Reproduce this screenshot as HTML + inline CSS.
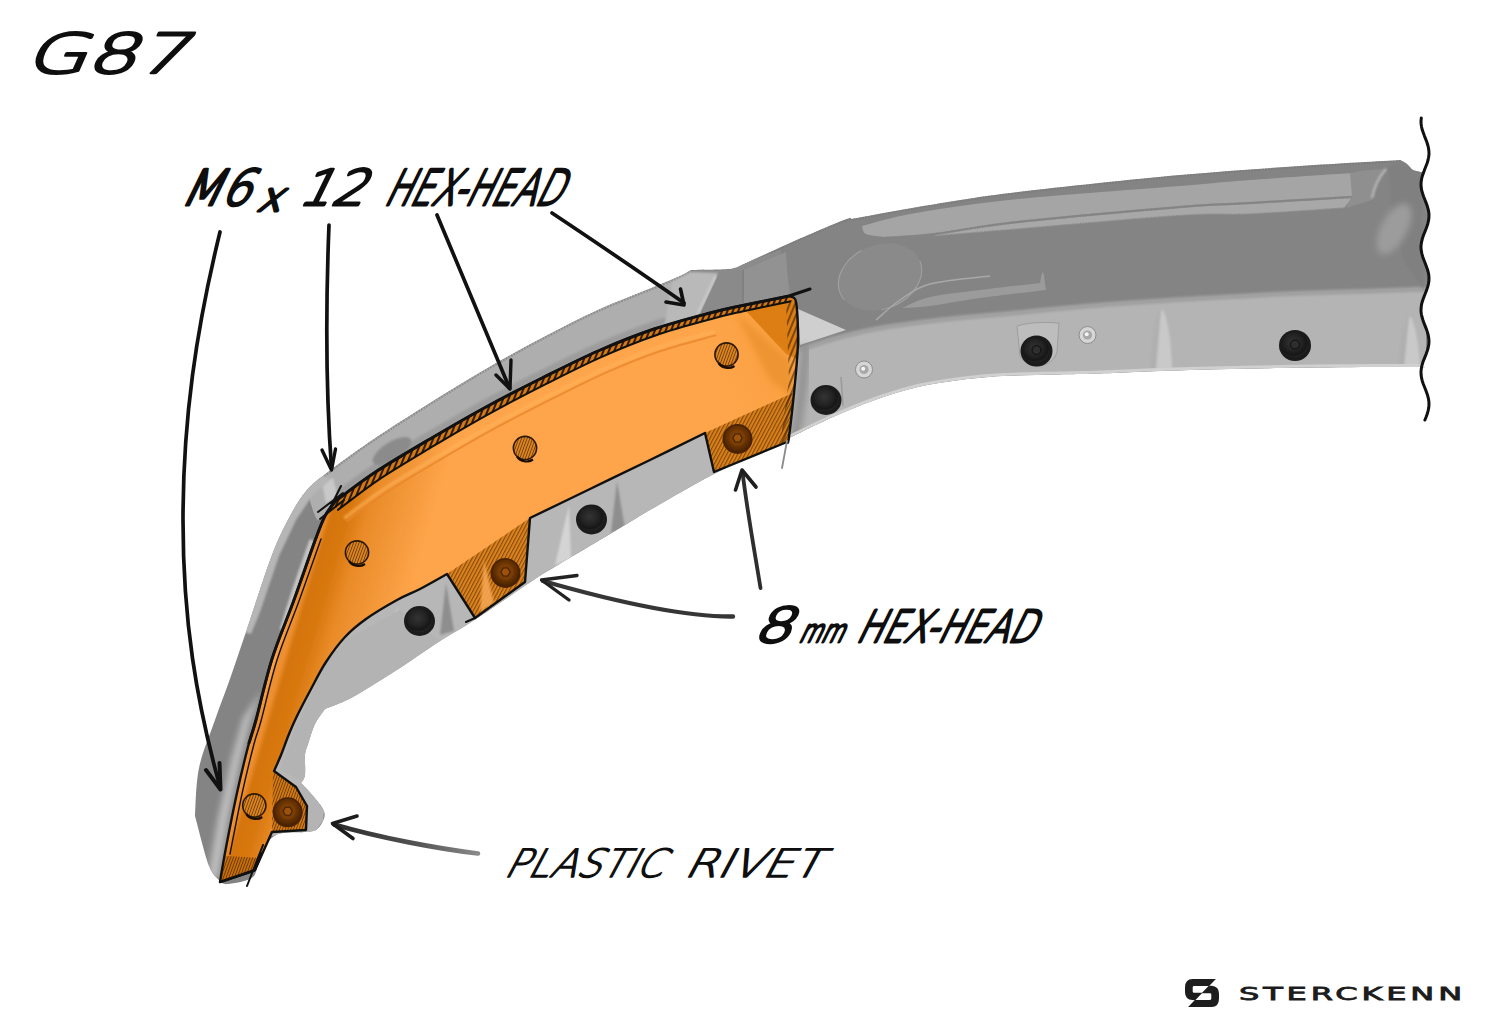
<!DOCTYPE html>
<html lang="en">
<head>
<meta charset="utf-8">
<title>G87 – Sterckenn mounting guide</title>
<style>
  html, body { margin: 0; padding: 0; background: #ffffff; }
  body { width: 1500px; height: 1030px; overflow: hidden; position: relative; }
  svg { position: absolute; left: 0; top: 0; display: block; }
  .hand { font-family: "DejaVu Sans Light", "DejaVu Sans", "Liberation Sans", sans-serif; font-weight: 200; fill: #0e0e0e; stroke: #0e0e0e; stroke-linejoin: round; stroke-linecap: round; }
  .brand { font-family: "DejaVu Sans", "Liberation Sans", sans-serif; font-weight: 400; fill: #1c1c1c; stroke: #1c1c1c; stroke-width: 0.8; }
  .ink { fill: none; stroke: #111; stroke-linecap: round; stroke-linejoin: round; }
</style>
</head>
<body>
<svg width="1500" height="1030" viewBox="0 0 1500 1030">
  <defs>
    <linearGradient id="gOr" gradientUnits="userSpaceOnUse" x1="296" y1="596" x2="401" y2="627">
      <stop offset="0" stop-color="#ee9030"/>
      <stop offset="0.05" stop-color="#ee9030"/>
      <stop offset="0.1" stop-color="#d4740f"/>
      <stop offset="0.25" stop-color="#d8780f"/>
      <stop offset="0.42" stop-color="#e98b28"/>
      <stop offset="1" stop-color="#fea54b"/>
    </linearGradient>
    <linearGradient id="gOr2" gradientUnits="userSpaceOnUse" x1="300" y1="500" x2="800" y2="300">
      <stop offset="0" stop-color="#fea54b"/>
      <stop offset="0.8" stop-color="#fea54b"/>
      <stop offset="1" stop-color="#f89e3c"/>
    </linearGradient>
    <linearGradient id="gLow" gradientUnits="userSpaceOnUse" x1="0" y1="290" x2="0" y2="372">
      <stop offset="0" stop-color="#a4a4a4"/>
      <stop offset="0.18" stop-color="#b3b3b3"/>
      <stop offset="1" stop-color="#b9b9b9"/>
    </linearGradient>
    <radialGradient id="gBolt" cx="0.45" cy="0.42" r="0.62">
      <stop offset="0" stop-color="#343434"/>
      <stop offset="0.55" stop-color="#222"/>
      <stop offset="0.8" stop-color="#161616"/>
      <stop offset="1" stop-color="#2a2a2a"/>
    </radialGradient>
    <radialGradient id="gHex" cx="0.5" cy="0.45" r="0.6">
      <stop offset="0" stop-color="#7f4106"/>
      <stop offset="0.55" stop-color="#6c3503"/>
      <stop offset="0.85" stop-color="#532701"/>
      <stop offset="1" stop-color="#3f1d00"/>
    </radialGradient>
    <pattern id="hatch" width="3.2" height="8" patternUnits="userSpaceOnUse" patternTransform="rotate(28)">
      <rect x="0" y="0" width="1.1" height="8" fill="#3a1c00" fill-opacity="0.55"/>
    </pattern>
    <pattern id="hatch2" width="2.6" height="8" patternUnits="userSpaceOnUse" patternTransform="rotate(20)">
      <rect x="0" y="0" width="0.9" height="8" fill="#2a1400" fill-opacity="0.6"/>
    </pattern>
    <pattern id="hatch3" width="5" height="8" patternUnits="userSpaceOnUse" patternTransform="rotate(22)">
      <rect x="0" y="0" width="2" height="8" fill="#140900" fill-opacity="0.85"/>
    </pattern>
    <linearGradient id="gArrow7" gradientUnits="userSpaceOnUse" x1="334" y1="0" x2="478" y2="0">
      <stop offset="0" stop-color="#2a2a2a"/><stop offset="0.6" stop-color="#555"/><stop offset="1" stop-color="#8a8a8a"/>
    </linearGradient>
    <clipPath id="clipSil"><path d="M221.0,882.0 C219.0,879.3 213.3,877.0 209.0,866.0 C204.7,855.0 197.3,824.3 195.0,816.0 C195.7,808.0 195.7,784.0 199.0,768.0 C202.3,752.0 209.7,735.3 215.0,720.0 C220.3,704.7 225.2,692.7 231.0,676.0 C236.8,659.3 243.2,640.2 250.0,620.0 C256.8,599.8 265.5,572.0 272.0,555.0 C278.5,538.0 283.2,528.8 289.0,518.0 C294.8,507.2 299.8,498.2 307.0,490.0 C314.2,481.8 320.8,477.5 332.0,469.0 C343.2,460.5 357.7,450.0 374.0,439.0 C390.3,428.0 411.3,414.7 430.0,403.0 C448.7,391.3 467.3,379.8 486.0,369.0 C504.7,358.2 523.3,347.8 542.0,338.0 C560.7,328.2 579.3,318.5 598.0,310.0 C616.7,301.5 640.3,292.7 654.0,287.0 C667.7,281.3 673.8,278.8 680.0,276.0 C686.2,273.2 689.2,271.0 691.0,270.0 C697.3,269.8 720.8,269.7 729.0,269.0 C737.2,268.3 738.2,266.5 740.0,266.0 C748.3,262.2 772.7,250.7 790.0,243.0 C807.3,235.3 833.8,224.0 844.0,220.0 C854.2,216.0 849.8,219.2 851.0,219.0 C864.2,216.7 902.2,209.5 930.0,205.0 C957.8,200.5 976.3,197.0 1018.0,192.0 C1059.7,187.0 1133.0,179.3 1180.0,175.0 C1227.0,170.7 1263.2,168.5 1300.0,166.0 C1336.8,163.5 1384.2,161.0 1401.0,160.0 L1401.0,160.5 C1402.0,161.1 1405.0,162.4 1407.0,164.0 C1409.0,165.6 1410.7,168.7 1413.0,170.0 C1415.3,171.3 1419.7,171.7 1421.0,172.0 C1421.4,172.0 1423.5,171.3 1423.7,172.0 C1423.9,172.7 1422.7,174.7 1422.3,176.1 C1421.9,177.4 1421.6,178.8 1421.4,180.1 C1421.1,181.5 1421.0,182.8 1421.0,184.2 C1421.0,185.5 1421.1,186.9 1421.3,188.2 C1421.5,189.6 1421.8,191.0 1422.2,192.3 C1422.6,193.7 1423.1,195.0 1423.6,196.4 C1424.0,197.7 1424.6,199.1 1425.2,200.4 C1425.7,201.8 1426.2,203.1 1426.7,204.5 C1427.2,205.9 1427.7,207.2 1428.0,208.6 C1428.4,209.9 1428.6,211.3 1428.8,212.6 C1429.0,214.0 1429.0,215.3 1429.0,216.7 C1428.9,218.0 1428.8,219.4 1428.5,220.8 C1428.3,222.1 1427.9,223.5 1427.5,224.8 C1427.0,226.2 1426.5,227.5 1426.0,228.9 C1425.5,230.2 1424.9,231.6 1424.4,232.9 C1423.9,234.3 1423.3,235.6 1422.9,237.0 C1422.4,238.4 1422.0,239.7 1421.7,241.1 C1421.4,242.4 1421.2,243.8 1421.1,245.1 C1421.0,246.5 1421.0,247.8 1421.1,249.2 C1421.2,250.5 1421.4,251.9 1421.7,253.2 C1422.0,254.6 1422.5,256.0 1422.9,257.3 C1423.4,258.7 1423.9,260.0 1424.4,261.4 C1424.9,262.7 1425.5,264.1 1426.0,265.4 C1426.5,266.8 1427.1,268.1 1427.5,269.5 C1427.9,270.9 1428.3,272.2 1428.5,273.6 C1428.8,274.9 1428.9,276.3 1429.0,277.6 C1429.0,279.0 1429.0,280.3 1428.8,281.7 C1428.6,283.0 1428.3,284.4 1428.0,285.8 C1427.6,287.1 1427.2,288.5 1426.7,289.8 C1426.2,291.2 1425.7,292.5 1425.1,293.9 C1424.6,295.2 1424.0,296.6 1423.5,297.9 C1423.0,299.3 1422.6,300.6 1422.2,302.0 C1421.8,303.4 1421.5,304.7 1421.3,306.1 C1421.1,307.4 1421.0,308.8 1421.0,310.1 C1421.0,311.5 1421.1,312.8 1421.4,314.2 C1421.6,315.5 1421.9,316.9 1422.3,318.2 C1422.7,319.6 1423.2,321.0 1423.7,322.3 C1424.2,323.7 1424.8,325.0 1425.3,326.4 C1425.9,327.7 1426.4,329.1 1426.9,330.4 C1427.3,331.8 1427.8,333.1 1428.1,334.5 C1428.5,335.9 1428.7,337.2 1428.9,338.6 C1429.0,339.9 1429.0,341.3 1429.0,342.6 C1428.9,344.0 1428.7,345.3 1428.4,346.7 C1428.1,348.0 1427.8,349.4 1427.3,350.8 C1426.9,352.1 1426.4,353.5 1425.8,354.8 C1425.3,356.2 1424.7,357.5 1424.2,358.9 C1423.7,360.2 1423.2,361.6 1422.7,362.9 C1422.3,364.3 1421.1,366.3 1421.6,367.0 C1422.2,367.7 1425.3,367.0 1426.0,367.0 C1417.0,367.0 1396.2,366.8 1372.0,367.0 C1347.8,367.2 1311.3,367.5 1281.0,368.0 C1250.7,368.5 1220.2,369.1 1190.0,370.0 C1159.8,370.9 1122.2,372.8 1100.0,373.5 C1077.8,374.2 1073.2,374.1 1057.0,374.5 C1040.8,374.9 1019.2,375.1 1003.0,376.0 C986.8,376.9 974.2,378.2 960.0,380.0 C945.8,381.8 932.2,383.7 918.0,387.0 C903.8,390.3 889.2,395.0 875.0,400.0 C860.8,405.0 847.7,410.5 833.0,417.0 C818.3,423.5 794.7,435.3 787.0,439.0 C774.8,444.8 736.8,462.2 714.0,474.0 C691.2,485.8 664.0,502.0 650.0,510.0 C636.0,518.0 645.3,512.8 630.0,522.0 C614.7,531.2 573.8,555.5 558.0,565.0 C542.2,574.5 548.7,570.0 535.0,579.0 C521.3,588.0 491.8,608.7 476.0,619.0 C460.2,629.3 452.2,633.2 440.0,641.0 C427.8,648.8 413.7,659.0 403.0,666.0 C392.3,673.0 385.0,677.5 376.0,683.0 C367.0,688.5 357.5,694.7 349.0,699.0 C340.5,703.3 329.0,707.3 325.0,709.0 C323.3,711.5 317.8,718.2 315.0,724.0 C312.2,729.8 309.7,738.8 308.0,744.0 C306.3,749.2 305.5,749.8 305.0,755.0 C304.5,760.2 305.7,770.3 305.0,775.0 C304.3,779.7 301.7,781.7 301.0,783.0 C303.2,785.3 310.2,792.3 314.0,797.0 C317.8,801.7 322.5,807.0 324.0,811.0 C325.5,815.0 324.3,817.8 323.0,821.0 C321.7,824.2 318.8,828.2 316.0,830.0 C313.2,831.8 307.7,831.7 306.0,832.0 C301.0,832.5 283.7,831.2 276.0,835.0 C268.3,838.8 263.8,848.0 260.0,855.0 C256.2,862.0 258.3,872.2 253.0,877.0 C247.7,881.8 233.3,883.2 228.0,884.0 C222.7,884.8 222.2,882.3 221.0,882.0 Z"/></clipPath>
    <clipPath id="clipOr"><path d="M333.0,503.0 C339.8,498.0 357.8,483.7 374.0,473.0 C390.2,462.3 411.3,450.0 430.0,439.0 C448.7,428.0 467.3,417.2 486.0,407.0 C504.7,396.8 523.3,387.3 542.0,378.0 C560.7,368.7 579.3,359.2 598.0,351.0 C616.7,342.8 635.3,335.3 654.0,329.0 C672.7,322.7 695.7,316.8 710.0,313.0 C724.3,309.2 726.8,308.8 740.0,306.0 C753.2,303.2 780.8,297.7 789.0,296.0 C790.0,296.5 793.7,296.7 795.0,299.0 C796.3,301.3 796.5,302.8 797.0,310.0 C797.5,317.2 798.3,329.8 798.0,342.0 C797.7,354.2 796.5,367.2 795.0,383.0 C793.5,398.8 790.3,427.2 789.0,437.0 C787.7,446.8 787.3,441.2 787.0,442.0 L714.0,472.0 L705.0,433.0 C695.8,437.5 669.2,450.7 650.0,460.0 C630.8,469.3 610.0,479.3 590.0,489.0 C570.0,498.7 540.0,513.2 530.0,518.0 L525.0,582.0 L475.0,618.0 L447.0,574.0 C442.5,576.5 428.3,584.7 420.0,589.0 C411.7,593.3 406.0,595.0 397.0,600.0 C388.0,605.0 374.7,612.8 366.0,619.0 C357.3,625.2 351.7,629.8 345.0,637.0 C338.3,644.2 331.7,653.3 326.0,662.0 C320.3,670.7 315.8,680.0 311.0,689.0 C306.2,698.0 300.7,708.5 297.0,716.0 C293.3,723.5 291.7,727.5 289.0,734.0 C286.3,740.5 283.5,748.8 281.0,755.0 C278.5,761.2 275.2,768.3 274.0,771.0 L296.0,787.0 L307.0,806.0 L306.0,830.0 L272.0,832.0 L255.0,870.0 L220.0,882.0 C220.8,877.2 222.2,867.8 225.0,853.0 C227.8,838.2 233.0,811.3 237.0,793.0 C241.0,774.7 245.8,755.2 249.0,743.0 C252.2,730.8 252.2,734.0 256.0,720.0 C259.8,706.0 265.7,679.0 272.0,659.0 C278.3,639.0 286.7,620.2 294.0,600.0 C301.3,579.8 310.8,552.0 316.0,538.0 C321.2,524.0 322.0,521.8 325.0,516.0 C328.0,510.2 332.5,505.2 334.0,503.0 Z"/></clipPath>
    <filter id="b1" x="-20%" y="-20%" width="140%" height="140%"><feGaussianBlur stdDeviation="1.2"/></filter>
    <filter id="b3" x="-20%" y="-20%" width="140%" height="140%"><feGaussianBlur stdDeviation="3"/></filter>
    <filter id="b6" x="-30%" y="-30%" width="160%" height="160%"><feGaussianBlur stdDeviation="6"/></filter>
  </defs>

<g id="body">
<path d="M221.0,882.0 C219.0,879.3 213.3,877.0 209.0,866.0 C204.7,855.0 197.3,824.3 195.0,816.0 C195.7,808.0 195.7,784.0 199.0,768.0 C202.3,752.0 209.7,735.3 215.0,720.0 C220.3,704.7 225.2,692.7 231.0,676.0 C236.8,659.3 243.2,640.2 250.0,620.0 C256.8,599.8 265.5,572.0 272.0,555.0 C278.5,538.0 283.2,528.8 289.0,518.0 C294.8,507.2 299.8,498.2 307.0,490.0 C314.2,481.8 320.8,477.5 332.0,469.0 C343.2,460.5 357.7,450.0 374.0,439.0 C390.3,428.0 411.3,414.7 430.0,403.0 C448.7,391.3 467.3,379.8 486.0,369.0 C504.7,358.2 523.3,347.8 542.0,338.0 C560.7,328.2 579.3,318.5 598.0,310.0 C616.7,301.5 640.3,292.7 654.0,287.0 C667.7,281.3 673.8,278.8 680.0,276.0 C686.2,273.2 689.2,271.0 691.0,270.0 C697.3,269.8 720.8,269.7 729.0,269.0 C737.2,268.3 738.2,266.5 740.0,266.0 C748.3,262.2 772.7,250.7 790.0,243.0 C807.3,235.3 833.8,224.0 844.0,220.0 C854.2,216.0 849.8,219.2 851.0,219.0 C864.2,216.7 902.2,209.5 930.0,205.0 C957.8,200.5 976.3,197.0 1018.0,192.0 C1059.7,187.0 1133.0,179.3 1180.0,175.0 C1227.0,170.7 1263.2,168.5 1300.0,166.0 C1336.8,163.5 1384.2,161.0 1401.0,160.0 L1401.0,160.5 C1402.0,161.1 1405.0,162.4 1407.0,164.0 C1409.0,165.6 1410.7,168.7 1413.0,170.0 C1415.3,171.3 1419.7,171.7 1421.0,172.0 C1421.4,172.0 1423.5,171.3 1423.7,172.0 C1423.9,172.7 1422.7,174.7 1422.3,176.1 C1421.9,177.4 1421.6,178.8 1421.4,180.1 C1421.1,181.5 1421.0,182.8 1421.0,184.2 C1421.0,185.5 1421.1,186.9 1421.3,188.2 C1421.5,189.6 1421.8,191.0 1422.2,192.3 C1422.6,193.7 1423.1,195.0 1423.6,196.4 C1424.0,197.7 1424.6,199.1 1425.2,200.4 C1425.7,201.8 1426.2,203.1 1426.7,204.5 C1427.2,205.9 1427.7,207.2 1428.0,208.6 C1428.4,209.9 1428.6,211.3 1428.8,212.6 C1429.0,214.0 1429.0,215.3 1429.0,216.7 C1428.9,218.0 1428.8,219.4 1428.5,220.8 C1428.3,222.1 1427.9,223.5 1427.5,224.8 C1427.0,226.2 1426.5,227.5 1426.0,228.9 C1425.5,230.2 1424.9,231.6 1424.4,232.9 C1423.9,234.3 1423.3,235.6 1422.9,237.0 C1422.4,238.4 1422.0,239.7 1421.7,241.1 C1421.4,242.4 1421.2,243.8 1421.1,245.1 C1421.0,246.5 1421.0,247.8 1421.1,249.2 C1421.2,250.5 1421.4,251.9 1421.7,253.2 C1422.0,254.6 1422.5,256.0 1422.9,257.3 C1423.4,258.7 1423.9,260.0 1424.4,261.4 C1424.9,262.7 1425.5,264.1 1426.0,265.4 C1426.5,266.8 1427.1,268.1 1427.5,269.5 C1427.9,270.9 1428.3,272.2 1428.5,273.6 C1428.8,274.9 1428.9,276.3 1429.0,277.6 C1429.0,279.0 1429.0,280.3 1428.8,281.7 C1428.6,283.0 1428.3,284.4 1428.0,285.8 C1427.6,287.1 1427.2,288.5 1426.7,289.8 C1426.2,291.2 1425.7,292.5 1425.1,293.9 C1424.6,295.2 1424.0,296.6 1423.5,297.9 C1423.0,299.3 1422.6,300.6 1422.2,302.0 C1421.8,303.4 1421.5,304.7 1421.3,306.1 C1421.1,307.4 1421.0,308.8 1421.0,310.1 C1421.0,311.5 1421.1,312.8 1421.4,314.2 C1421.6,315.5 1421.9,316.9 1422.3,318.2 C1422.7,319.6 1423.2,321.0 1423.7,322.3 C1424.2,323.7 1424.8,325.0 1425.3,326.4 C1425.9,327.7 1426.4,329.1 1426.9,330.4 C1427.3,331.8 1427.8,333.1 1428.1,334.5 C1428.5,335.9 1428.7,337.2 1428.9,338.6 C1429.0,339.9 1429.0,341.3 1429.0,342.6 C1428.9,344.0 1428.7,345.3 1428.4,346.7 C1428.1,348.0 1427.8,349.4 1427.3,350.8 C1426.9,352.1 1426.4,353.5 1425.8,354.8 C1425.3,356.2 1424.7,357.5 1424.2,358.9 C1423.7,360.2 1423.2,361.6 1422.7,362.9 C1422.3,364.3 1421.1,366.3 1421.6,367.0 C1422.2,367.7 1425.3,367.0 1426.0,367.0 C1417.0,367.0 1396.2,366.8 1372.0,367.0 C1347.8,367.2 1311.3,367.5 1281.0,368.0 C1250.7,368.5 1220.2,369.1 1190.0,370.0 C1159.8,370.9 1122.2,372.8 1100.0,373.5 C1077.8,374.2 1073.2,374.1 1057.0,374.5 C1040.8,374.9 1019.2,375.1 1003.0,376.0 C986.8,376.9 974.2,378.2 960.0,380.0 C945.8,381.8 932.2,383.7 918.0,387.0 C903.8,390.3 889.2,395.0 875.0,400.0 C860.8,405.0 847.7,410.5 833.0,417.0 C818.3,423.5 794.7,435.3 787.0,439.0 C774.8,444.8 736.8,462.2 714.0,474.0 C691.2,485.8 664.0,502.0 650.0,510.0 C636.0,518.0 645.3,512.8 630.0,522.0 C614.7,531.2 573.8,555.5 558.0,565.0 C542.2,574.5 548.7,570.0 535.0,579.0 C521.3,588.0 491.8,608.7 476.0,619.0 C460.2,629.3 452.2,633.2 440.0,641.0 C427.8,648.8 413.7,659.0 403.0,666.0 C392.3,673.0 385.0,677.5 376.0,683.0 C367.0,688.5 357.5,694.7 349.0,699.0 C340.5,703.3 329.0,707.3 325.0,709.0 C323.3,711.5 317.8,718.2 315.0,724.0 C312.2,729.8 309.7,738.8 308.0,744.0 C306.3,749.2 305.5,749.8 305.0,755.0 C304.5,760.2 305.7,770.3 305.0,775.0 C304.3,779.7 301.7,781.7 301.0,783.0 C303.2,785.3 310.2,792.3 314.0,797.0 C317.8,801.7 322.5,807.0 324.0,811.0 C325.5,815.0 324.3,817.8 323.0,821.0 C321.7,824.2 318.8,828.2 316.0,830.0 C313.2,831.8 307.7,831.7 306.0,832.0 C301.0,832.5 283.7,831.2 276.0,835.0 C268.3,838.8 263.8,848.0 260.0,855.0 C256.2,862.0 258.3,872.2 253.0,877.0 C247.7,881.8 233.3,883.2 228.0,884.0 C222.7,884.8 222.2,882.3 221.0,882.0 Z" fill="#848484"/>
<g clip-path="url(#clipSil)">
<path d="M1426.0,288.0 C1417.0,288.3 1396.2,289.2 1372.0,290.0 C1347.8,290.8 1311.3,291.7 1281.0,293.0 C1250.7,294.3 1220.2,296.2 1190.0,298.0 C1159.8,299.8 1131.2,301.5 1100.0,304.0 C1068.8,306.5 1029.8,310.5 1003.0,313.0 C976.2,315.5 960.3,316.5 939.0,319.0 C917.7,321.5 892.7,324.8 875.0,328.0 C857.3,331.2 845.7,334.5 833.0,338.0 C820.3,341.5 804.7,347.2 799.0,349.0 L787.0,441.0 L787.0,439.0 C794.7,435.3 818.3,423.5 833.0,417.0 C847.7,410.5 860.8,405.0 875.0,400.0 C889.2,395.0 903.8,390.3 918.0,387.0 C932.2,383.7 945.8,381.8 960.0,380.0 C974.2,378.2 986.8,376.9 1003.0,376.0 C1019.2,375.1 1040.8,374.9 1057.0,374.5 C1073.2,374.1 1077.8,374.2 1100.0,373.5 C1122.2,372.8 1159.8,370.9 1190.0,370.0 C1220.2,369.1 1250.7,368.5 1281.0,368.0 C1311.3,367.5 1347.8,367.2 1372.0,367.0 C1396.2,366.8 1417.0,367.0 1426.0,367.0 Z" fill="#b4b4b4"/>
<path d="M1426.0,278.0 C1417.0,278.3 1396.2,279.2 1372.0,280.0 C1347.8,280.8 1311.3,281.7 1281.0,283.0 C1250.7,284.3 1220.2,286.2 1190.0,288.0 C1159.8,289.8 1131.2,291.5 1100.0,294.0 C1068.8,296.5 1029.8,300.5 1003.0,303.0 C976.2,305.5 960.3,306.5 939.0,309.0 C917.7,311.5 892.7,314.8 875.0,318.0 C857.3,321.2 845.7,324.5 833.0,328.0 C820.3,331.5 804.7,337.2 799.0,339.0" fill="none" stroke="#848484" stroke-width="12" filter="url(#b3)"/>
<path d="M1426.0,289.0 C1417.0,289.3 1396.2,290.2 1372.0,291.0 C1347.8,291.8 1311.3,292.7 1281.0,294.0 C1250.7,295.3 1220.2,297.2 1190.0,299.0 C1159.8,300.8 1131.2,302.5 1100.0,305.0 C1068.8,307.5 1029.8,311.5 1003.0,314.0 C976.2,316.5 960.3,317.5 939.0,320.0 C917.7,322.5 892.7,325.8 875.0,329.0 C857.3,332.2 845.7,335.5 833.0,339.0 C820.3,342.5 804.7,348.2 799.0,350.0" fill="none" stroke="#a0a0a0" stroke-width="5" filter="url(#b1)"/>
<path d="M787,441 L714,474 L650,510 L558,565 L476,619 L403,668 L349,700 L325,710 L308,745 L304,782 L324,811 L316,832 L270,836 L270,770 L330,640 L420,570 L540,505 L700,425 L799,345 Z" fill="#b7b7b7"/>
<path d="M851.0,220.0 C864.2,217.7 902.2,210.5 930.0,206.0 C957.8,201.5 976.3,198.0 1018.0,193.0 C1059.7,188.0 1133.0,180.3 1180.0,176.0 C1227.0,171.7 1263.2,169.5 1300.0,167.0 C1336.8,164.5 1384.2,162.0 1401.0,161.0" fill="none" stroke="#7c7c7c" stroke-width="2.2" stroke-dasharray="1.6 1.3"/>
<path d="M740.0,267.0 C748.3,263.2 772.7,251.7 790.0,244.0 C807.3,236.3 833.8,225.0 844.0,221.0 C854.2,217.0 849.8,220.2 851.0,220.0" fill="none" stroke="#7c7c7c" stroke-width="2.2" stroke-dasharray="1.6 1.3"/>
<path d="M307.0,490.0 C311.2,486.5 320.8,477.5 332.0,469.0 C343.2,460.5 357.7,450.0 374.0,439.0 C390.3,428.0 411.3,414.7 430.0,403.0 C448.7,391.3 467.3,379.8 486.0,369.0 C504.7,358.2 523.3,347.8 542.0,338.0 C560.7,328.2 579.3,318.5 598.0,310.0 C616.7,301.5 640.3,292.7 654.0,287.0 C667.7,281.3 673.8,278.8 680.0,276.0 C686.2,273.2 689.2,271.0 691.0,270.0 C692.5,275.0 699.2,292.0 700.0,300.0 C700.8,308.0 696.7,315.0 696.0,318.0 C698.3,317.2 717.0,311.2 710.0,313.0 C703.0,314.8 672.7,322.7 654.0,329.0 C635.3,335.3 616.7,342.8 598.0,351.0 C579.3,359.2 560.7,368.7 542.0,378.0 C523.3,387.3 504.7,396.8 486.0,407.0 C467.3,417.2 448.7,428.0 430.0,439.0 C411.3,450.0 390.2,462.3 374.0,473.0 C357.8,483.7 339.8,498.0 333.0,503.0 C330.5,505.8 322.3,522.2 318.0,520.0 C313.7,517.8 308.8,495.0 307.0,490.0 Z" fill="#aeaeae"/>
<path d="M301.0,499.0 C302.0,497.7 301.8,495.8 307.0,491.0 C312.2,486.2 320.8,478.5 332.0,470.0 C343.2,461.5 357.7,451.0 374.0,440.0 C390.3,429.0 411.3,415.7 430.0,404.0 C448.7,392.3 467.3,380.8 486.0,370.0 C504.7,359.2 523.3,348.8 542.0,339.0 C560.7,329.2 579.3,319.5 598.0,311.0 C616.7,302.5 640.3,293.7 654.0,288.0 C667.7,282.3 673.8,279.8 680.0,277.0 C686.2,274.2 689.2,272.0 691.0,271.0" fill="none" stroke="#8e8e8e" stroke-width="2.6" stroke-dasharray="1.8 1.2"/>
<path d="M332.0,499.0 C338.8,494.0 356.8,479.7 373.0,469.0 C389.2,458.3 410.3,446.0 429.0,435.0 C447.7,424.0 466.3,413.2 485.0,403.0 C503.7,392.8 522.3,383.3 541.0,374.0 C559.7,364.7 578.3,355.2 597.0,347.0 C615.7,338.8 634.3,331.3 653.0,325.0 C671.7,318.7 699.7,311.7 709.0,309.0" fill="none" stroke="#8f8f8f" stroke-width="7" opacity="0.55" filter="url(#b1)"/>
<ellipse cx="392" cy="451" rx="22" ry="9" transform="rotate(-32 392 451)" fill="#8b8b8b" filter="url(#b1)"/>
<path d="M322,483 L333,478 L338,497 L326,503 Z" fill="#c9c9c9" filter="url(#b1)"/>
<path d="M244,632 L250,610 L270,550 L287,514 L304,489 L322,474 L330,480 L312,496 L296,520 L279,556 L260,612 L251,634 Z" fill="#b6b6b6" filter="url(#b1)"/>
<path d="M312.0,540.0 C309.0,548.7 299.0,577.0 294.0,592.0 C289.0,607.0 284.0,623.7 282.0,630.0" fill="none" stroke="#c4c4c4" stroke-width="5" filter="url(#b1)"/>
<path d="M262,690 L250,722 L240,762 L228,820 L218,880 L208,876 L218,818 L231,760 L243,718 Z" fill="#bdbdbd" filter="url(#b3)"/>
<path d="M691,271 L729,270 L742,264 L780,250 L792,296 L740,308 L696,320 Z" fill="#8b8b8b"/>
<path d="M672,282 L692,272 L718,273 L698,316 L664,328 Z" fill="#b9b9b9" filter="url(#b1)"/>
<path d="M716,276 L698,314" stroke="#cfcfcf" stroke-width="2.5" fill="none" filter="url(#b1)"/>
<path d="M719,273 L744,270 L744,303 L699,316 Z" fill="#8a8a8a"/>
<path d="M744,270 L786,252 L789,296 L744,304 Z" fill="#929292"/>
<path d="M743,270 L743,303" stroke="#7e7e7e" stroke-width="1.5" fill="none"/>
<path d="M798,309 L846,330 L800,345 Z" fill="#cfcfcf"/>
<path d="M862.0,226.0 C871.0,223.8 890.0,217.5 916.0,213.0 C942.0,208.5 974.0,203.5 1018.0,199.0 C1062.0,194.5 1141.3,189.2 1180.0,186.0 C1218.7,182.8 1221.3,182.2 1250.0,180.0 C1278.7,177.8 1335.0,174.2 1352.0,173.0 C1354.3,173.3 1366.0,171.2 1366.0,175.0 C1366.0,178.8 1354.3,192.5 1352.0,196.0 C1335.0,197.0 1278.7,200.3 1250.0,202.0 C1221.3,203.7 1218.7,202.8 1180.0,206.0 C1141.3,209.2 1058.8,216.5 1018.0,221.0 C977.2,225.5 957.3,230.3 935.0,233.0 C912.7,235.7 892.5,236.3 884.0,237.0 C881.0,236.5 869.7,235.8 866.0,234.0 C862.3,232.2 862.7,227.3 862.0,226.0 Z" fill="#a5a5a5"/>
<path d="M935.0,235.0 C948.8,233.0 977.2,227.5 1018.0,223.0 C1058.8,218.5 1141.3,211.2 1180.0,208.0 C1218.7,204.8 1221.3,205.7 1250.0,204.0 C1278.7,202.3 1335.0,199.0 1352.0,198.0 L1344.0,208.0 C1328.3,209.0 1277.3,212.8 1250.0,214.0 C1222.7,215.2 1218.7,213.0 1180.0,215.5 C1141.3,218.0 1058.8,225.6 1018.0,229.0 C977.2,232.4 948.8,234.8 935.0,236.0 Z" fill="#a8a8a8"/>
<path d="M884.0,238.0 C892.5,237.3 912.7,236.7 935.0,234.0 C957.3,231.3 977.2,226.5 1018.0,222.0 C1058.8,217.5 1141.3,210.2 1180.0,207.0 C1218.7,203.8 1221.3,204.7 1250.0,203.0 C1278.7,201.3 1335.0,198.0 1352.0,197.0" fill="none" stroke="#858585" stroke-width="2.4" stroke-dasharray="1.5 1.1"/>
<path d="M935.0,236.0 C948.8,234.8 977.2,232.4 1018.0,229.0 C1058.8,225.6 1141.3,218.0 1180.0,215.5 C1218.7,213.0 1222.7,215.2 1250.0,214.0 C1277.3,212.8 1328.3,209.0 1344.0,208.0" fill="none" stroke="#8a8a8a" stroke-width="1.5" stroke-dasharray="1.5 1.1"/>
<path d="M1350,173 C1364,170 1376,169 1388,169 C1378,178 1374,190 1372,200 L1346,208 L1352,196 Z" fill="#8f8f8f"/>
<path d="M1386,169 C1378,178 1374,188 1372,198" fill="none" stroke="#b5b5b5" stroke-width="2.5" filter="url(#b1)"/>
<path d="M1388,166 L1401,161 L1421,172 L1424,290 L1404,262 L1392,215 Z" fill="#808080" filter="url(#b1)"/>
<ellipse cx="1394" cy="229" rx="13" ry="28" transform="rotate(28 1394 229)" fill="#9c9c9c" filter="url(#b3)"/>
<ellipse cx="880" cy="277" rx="43" ry="32" transform="rotate(-22 880 277)" fill="#8a8a8a" stroke="#a0a0a0" stroke-width="1.1" stroke-dasharray="70 40 60 300"/>
<path d="M902.0,308.0 C906.7,306.2 917.0,300.0 930.0,297.0 C943.0,294.0 961.7,292.3 980.0,290.0 C998.3,287.7 1030.0,284.2 1040.0,283.0 C1040.5,281.2 1042.0,270.8 1043.0,272.0 C1044.0,273.2 1045.5,287.0 1046.0,290.0 C1035.0,291.3 999.3,295.3 980.0,298.0 C960.7,300.7 943.0,304.3 930.0,306.0 C917.0,307.7 906.7,307.7 902.0,308.0 Z" fill="#9b9b9b"/>
<path d="M876.0,320.0 C880.0,316.7 891.0,306.0 900.0,300.0 C909.0,294.0 915.0,288.0 930.0,284.0 C945.0,280.0 980.0,277.3 990.0,276.0" fill="none" stroke="#a8a8a8" stroke-width="1.5"/>
<path d="M1152,369 C1153,334 1158,314 1162,309 C1166,314 1171,334 1172,369 Z" fill="#c9c9c9" filter="url(#b1)"/>
<path d="M1151,369 C1152,334 1157,314 1161,309 L1156,369 Z" fill="#a6a6a6" opacity="0.7" filter="url(#b1)"/>
<path d="M1400,368 C1401,341 1406,321 1410,316 C1414,321 1419,341 1420,368 Z" fill="#c9c9c9" filter="url(#b1)"/>
<path d="M1399,368 C1400,341 1405,321 1409,316 L1404,368 Z" fill="#a6a6a6" opacity="0.7" filter="url(#b1)"/>
<path d="M1017,326 C1030,322 1046,322 1059,323 L1057,352 C1052,368 1030,372 1020,356 Z" fill="#bdbdbd" stroke="#9d9d9d" stroke-width="1"/>
<path d="M841,377 L843,406" stroke="#9a9a9a" stroke-width="1.5" fill="none"/>
<path d="M806,346 L803,380 L798,420 L794,442" fill="none" stroke="#8c8c8c" stroke-width="10" opacity="0.8" filter="url(#b3)"/>
<path d="M1426.0,365.5 C1417.0,365.5 1396.2,365.3 1372.0,365.5 C1347.8,365.7 1311.3,366.0 1281.0,366.5 C1250.7,367.0 1220.2,367.6 1190.0,368.5 C1159.8,369.4 1122.2,371.2 1100.0,372.0 C1077.8,372.8 1073.2,372.6 1057.0,373.0 C1040.8,373.4 1019.2,373.6 1003.0,374.5 C986.8,375.4 974.2,376.7 960.0,378.5 C945.8,380.3 932.2,382.2 918.0,385.5 C903.8,388.8 889.2,393.5 875.0,398.5 C860.8,403.5 847.7,409.0 833.0,415.5 C818.3,422.0 794.7,433.8 787.0,437.5" fill="none" stroke="#d0d0d0" stroke-width="3"/>
<path d="M569,505 L555,565 L571,559 Z" fill="#d4d4d4" filter="url(#b1)"/>
<path d="M617,481 L625,529 L611,533 Z" fill="#8e8e8e" filter="url(#b1)"/>
<path d="M398,607 L384,667 L400,661 Z" fill="#d4d4d4" filter="url(#b1)"/>
<path d="M446,583 L454,631 L440,635 Z" fill="#8e8e8e" filter="url(#b1)"/>
<path d="M345,640 L400,610 L440,641 L376,684 L349,700 L325,710 L308,745 L304,782 L280,770 L296,726 L327,662 Z" fill="#b3b3b3"/>
<path d="M303,784 L314,797 L324,811 L323,821 L316,830 L300,833 L296,787 Z" fill="#b4b4b4"/>
</g>
</g>
<g id="rivets">
<g><ellipse cx="826.0" cy="400.0" rx="15.5" ry="15.0" fill="#1b1b1b"/><ellipse cx="825.5" cy="399.0" rx="13.0" ry="12.0" fill="url(#gBolt)"/></g>
<g><ellipse cx="1036.5" cy="351.0" rx="16.0" ry="15.5" fill="#1b1b1b"/><ellipse cx="1036.0" cy="350.0" rx="13.5" ry="12.5" fill="url(#gBolt)"/><circle cx="1036.5" cy="350.0" r="4.5" fill="#2e2e2e" stroke="#0c0c0c" stroke-width="1"/></g>
<g><ellipse cx="1295.0" cy="345.5" rx="16.0" ry="15.5" fill="#1b1b1b"/><ellipse cx="1294.5" cy="344.5" rx="13.5" ry="12.5" fill="url(#gBolt)"/><circle cx="1295.0" cy="344.5" r="4.5" fill="#2e2e2e" stroke="#0c0c0c" stroke-width="1"/></g>
<g><ellipse cx="591.5" cy="519.5" rx="15.5" ry="15.0" fill="#1b1b1b"/><ellipse cx="591.0" cy="518.5" rx="13.0" ry="12.0" fill="url(#gBolt)"/></g>
<g><ellipse cx="419.5" cy="621.0" rx="15.5" ry="15.0" fill="#1b1b1b"/><ellipse cx="419.0" cy="620.0" rx="13.0" ry="12.0" fill="url(#gBolt)"/></g>
<g><circle cx="864.0" cy="369.5" r="8.5" fill="#d6d6d6" stroke="#8c8c8c" stroke-width="1"/><circle cx="864.0" cy="369.5" r="4.6" fill="#a8a8a8"/><circle cx="863.2" cy="368.7" r="2" fill="#f5f5f5"/></g>
<g><circle cx="1087.5" cy="335.0" r="8.5" fill="#d6d6d6" stroke="#8c8c8c" stroke-width="1"/><circle cx="1087.5" cy="335.0" r="4.6" fill="#a8a8a8"/><circle cx="1086.7" cy="334.2" r="2" fill="#f5f5f5"/></g>
</g>
<g id="panel">
<path d="M333.0,503.0 C339.8,498.0 357.8,483.7 374.0,473.0 C390.2,462.3 411.3,450.0 430.0,439.0 C448.7,428.0 467.3,417.2 486.0,407.0 C504.7,396.8 523.3,387.3 542.0,378.0 C560.7,368.7 579.3,359.2 598.0,351.0 C616.7,342.8 635.3,335.3 654.0,329.0 C672.7,322.7 695.7,316.8 710.0,313.0 C724.3,309.2 726.8,308.8 740.0,306.0 C753.2,303.2 780.8,297.7 789.0,296.0 C790.0,296.5 793.7,296.7 795.0,299.0 C796.3,301.3 796.5,302.8 797.0,310.0 C797.5,317.2 798.3,329.8 798.0,342.0 C797.7,354.2 796.5,367.2 795.0,383.0 C793.5,398.8 790.3,427.2 789.0,437.0 C787.7,446.8 787.3,441.2 787.0,442.0 L714.0,472.0 L705.0,433.0 C695.8,437.5 669.2,450.7 650.0,460.0 C630.8,469.3 610.0,479.3 590.0,489.0 C570.0,498.7 540.0,513.2 530.0,518.0 L525.0,582.0 L475.0,618.0 L447.0,574.0 C442.5,576.5 428.3,584.7 420.0,589.0 C411.7,593.3 406.0,595.0 397.0,600.0 C388.0,605.0 374.7,612.8 366.0,619.0 C357.3,625.2 351.7,629.8 345.0,637.0 C338.3,644.2 331.7,653.3 326.0,662.0 C320.3,670.7 315.8,680.0 311.0,689.0 C306.2,698.0 300.7,708.5 297.0,716.0 C293.3,723.5 291.7,727.5 289.0,734.0 C286.3,740.5 283.5,748.8 281.0,755.0 C278.5,761.2 275.2,768.3 274.0,771.0 L296.0,787.0 L307.0,806.0 L306.0,830.0 L272.0,832.0 L255.0,870.0 L220.0,882.0 C220.8,877.2 222.2,867.8 225.0,853.0 C227.8,838.2 233.0,811.3 237.0,793.0 C241.0,774.7 245.8,755.2 249.0,743.0 C252.2,730.8 252.2,734.0 256.0,720.0 C259.8,706.0 265.7,679.0 272.0,659.0 C278.3,639.0 286.7,620.2 294.0,600.0 C301.3,579.8 310.8,552.0 316.0,538.0 C321.2,524.0 322.0,521.8 325.0,516.0 C328.0,510.2 332.5,505.2 334.0,503.0 Z" fill="url(#gOr2)"/>
<g clip-path="url(#clipOr)">
<path d="M325,498 L374,466 L430,432 L474,410 L480,560 L420,600 L354,640 L316,698 L273,771 L307,806 L306,836 L255,876 L212,888 L225,853 L250,743 L296,596 Z" fill="url(#gOr)" filter="url(#b1)"/>
<path d="M344.2,518.3 C350.9,513.4 368.6,499.4 384.5,488.9 C400.4,478.4 421.2,466.2 439.6,455.4 C458.1,444.5 476.6,433.7 495.1,423.7 C513.6,413.6 532.1,404.2 550.5,395.0 C568.9,385.8 587.3,376.4 605.6,368.4 C623.9,360.4 641.8,353.2 660.1,347.0 C678.4,340.8 706.0,333.9 715.2,331.3" fill="none" stroke="#ffb25c" stroke-width="4" opacity="0.6" filter="url(#b1)"/>
<path d="M346.6,521.6 C353.3,516.7 370.8,502.7 386.7,492.2 C402.5,481.7 423.3,469.6 441.7,458.8 C460.1,448.0 478.6,437.2 497.0,427.2 C515.4,417.2 533.9,407.8 552.3,398.6 C570.7,389.4 589.0,380.0 607.2,372.1 C625.4,364.1 643.2,356.9 661.4,350.8 C679.6,344.6 707.2,337.7 716.3,335.1" fill="none" stroke="#e8862a" stroke-width="2" opacity="0.8"/>
<path d="M747,312 L789,296 L800,305 L800,360 L786,354 Z" fill="#dc7e14"/>
<path d="M735,312 L790,360 L795,400 L770,380 Z" fill="#ee9431" filter="url(#b3)"/>
<path d="M705,433 L795,392 L789,440 L714,473 Z" fill="#d9801a"/>
<path d="M705,433 L795,392 L789,440 L714,473 Z" fill="url(#hatch)"/>
<path d="M786,300 L802,300 L800,445 L780,445 L789,380 Z" fill="url(#hatch3)" opacity="0.55"/>
<path d="M447,574 L530,518 L525,582 L475,618 Z" fill="#dc831e"/>
<path d="M447,574 L530,518 L525,582 L475,618 Z" fill="url(#hatch)"/>
<path d="M484,560 L480,612 L494,603 Z" fill="#f6a652" opacity="0.9" filter="url(#b1)"/>
<path d="M273,771 L296,787 L307,806 L306,830 L272,832 Z" fill="#d57a14"/>
<path d="M273,771 L296,787 L307,806 L306,830 L272,832 Z" fill="url(#hatch2)"/>
<path d="M226,856 L260,858 L255,870 L220,882 Z" fill="#c86e0c"/>
<path d="M226,856 L260,858 L255,870 L220,882 Z" fill="url(#hatch2)"/>
<path d="M333.0,503.0 C339.8,498.0 357.8,483.7 374.0,473.0 C390.2,462.3 411.3,450.0 430.0,439.0 C448.7,428.0 467.3,417.2 486.0,407.0 C504.7,396.8 523.3,387.3 542.0,378.0 C560.7,368.7 579.3,359.2 598.0,351.0 C616.7,342.8 635.3,335.3 654.0,329.0 C672.7,322.7 695.7,316.8 710.0,313.0 C724.3,309.2 726.8,308.8 740.0,306.0 C753.2,303.2 780.8,297.7 789.0,296.0 L790.1,301.4 C782.0,303.1 754.3,308.8 741.2,311.7 C728.1,314.6 725.8,315.0 711.6,319.0 C697.4,322.9 674.6,328.8 656.1,335.2 C637.6,341.5 619.2,349.1 600.7,357.3 C582.3,365.5 563.7,375.0 545.2,384.4 C526.7,393.8 508.1,403.4 489.6,413.6 C471.0,423.8 452.5,434.7 434.0,445.7 C415.5,456.8 394.5,469.1 378.5,479.8 C362.5,490.5 344.8,504.9 338.0,509.9 Z" fill="#d37a18"/>
<path d="M333.0,503.0 C339.8,498.0 357.8,483.7 374.0,473.0 C390.2,462.3 411.3,450.0 430.0,439.0 C448.7,428.0 467.3,417.2 486.0,407.0 C504.7,396.8 523.3,387.3 542.0,378.0 C560.7,368.7 579.3,359.2 598.0,351.0 C616.7,342.8 635.3,335.3 654.0,329.0 C672.7,322.7 695.7,316.8 710.0,313.0 C724.3,309.2 726.8,308.8 740.0,306.0 C753.2,303.2 780.8,297.7 789.0,296.0 L790.1,301.4 C782.0,303.1 754.3,308.8 741.2,311.7 C728.1,314.6 725.8,315.0 711.6,319.0 C697.4,322.9 674.6,328.8 656.1,335.2 C637.6,341.5 619.2,349.1 600.7,357.3 C582.3,365.5 563.7,375.0 545.2,384.4 C526.7,393.8 508.1,403.4 489.6,413.6 C471.0,423.8 452.5,434.7 434.0,445.7 C415.5,456.8 394.5,469.1 378.5,479.8 C362.5,490.5 344.8,504.9 338.0,509.9 Z" fill="url(#hatch3)"/>
</g>
<path d="M333.0,503.0 C339.8,498.0 357.8,483.7 374.0,473.0 C390.2,462.3 411.3,450.0 430.0,439.0 C448.7,428.0 467.3,417.2 486.0,407.0 C504.7,396.8 523.3,387.3 542.0,378.0 C560.7,368.7 579.3,359.2 598.0,351.0 C616.7,342.8 635.3,335.3 654.0,329.0 C672.7,322.7 695.7,316.8 710.0,313.0 C724.3,309.2 726.8,308.8 740.0,306.0 C753.2,303.2 780.8,297.7 789.0,296.0 C790.0,296.5 793.7,296.7 795.0,299.0 C796.3,301.3 796.5,302.8 797.0,310.0 C797.5,317.2 798.3,329.8 798.0,342.0 C797.7,354.2 796.5,367.2 795.0,383.0 C793.5,398.8 790.3,427.2 789.0,437.0 C787.7,446.8 787.3,441.2 787.0,442.0 L714.0,472.0 L705.0,433.0 C695.8,437.5 669.2,450.7 650.0,460.0 C630.8,469.3 610.0,479.3 590.0,489.0 C570.0,498.7 540.0,513.2 530.0,518.0 L525.0,582.0 L475.0,618.0 L447.0,574.0 C442.5,576.5 428.3,584.7 420.0,589.0 C411.7,593.3 406.0,595.0 397.0,600.0 C388.0,605.0 374.7,612.8 366.0,619.0 C357.3,625.2 351.7,629.8 345.0,637.0 C338.3,644.2 331.7,653.3 326.0,662.0 C320.3,670.7 315.8,680.0 311.0,689.0 C306.2,698.0 300.7,708.5 297.0,716.0 C293.3,723.5 291.7,727.5 289.0,734.0 C286.3,740.5 283.5,748.8 281.0,755.0 C278.5,761.2 275.2,768.3 274.0,771.0 L296.0,787.0 L307.0,806.0 L306.0,830.0 L272.0,832.0 L255.0,870.0 L220.0,882.0 C220.8,877.2 222.2,867.8 225.0,853.0 C227.8,838.2 233.0,811.3 237.0,793.0 C241.0,774.7 245.8,755.2 249.0,743.0 C252.2,730.8 252.2,734.0 256.0,720.0 C259.8,706.0 265.7,679.0 272.0,659.0 C278.3,639.0 286.7,620.2 294.0,600.0 C301.3,579.8 310.8,552.0 316.0,538.0 C321.2,524.0 322.0,521.8 325.0,516.0 C328.0,510.2 332.5,505.2 334.0,503.0 Z" fill="none" stroke="#111" stroke-width="2.4" stroke-linejoin="round"/>
<path d="M333.0,503.0 C339.8,498.0 357.8,483.7 374.0,473.0 C390.2,462.3 411.3,450.0 430.0,439.0 C448.7,428.0 467.3,417.2 486.0,407.0 C504.7,396.8 523.3,387.3 542.0,378.0 C560.7,368.7 579.3,359.2 598.0,351.0 C616.7,342.8 635.3,335.3 654.0,329.0 C672.7,322.7 695.7,316.8 710.0,313.0 C724.3,309.2 726.8,308.8 740.0,306.0 C753.2,303.2 780.8,297.7 789.0,296.0 L810,289" class="ink" stroke-width="3"/>
<path d="M338.0,509.9 C344.8,504.9 362.5,490.5 378.5,479.8 C394.5,469.1 415.5,456.8 434.0,445.7 C452.5,434.7 471.0,423.8 489.6,413.6 C508.1,403.4 526.7,393.8 545.2,384.4 C563.7,375.0 582.3,365.5 600.7,357.3 C619.2,349.1 637.6,341.5 656.1,335.2 C674.6,328.8 697.4,322.9 711.6,319.0 C725.8,315.0 728.1,314.6 741.2,311.7 C754.3,308.8 782.0,303.1 790.1,301.4" class="ink" stroke-width="2"/>
<path d="M249.0,743.0 C250.2,739.2 252.2,734.0 256.0,720.0 C259.8,706.0 265.7,679.0 272.0,659.0 C278.3,639.0 286.7,620.2 294.0,600.0 C301.3,579.8 310.8,552.0 316.0,538.0 C321.2,524.0 322.0,521.8 325.0,516.0 C328.0,510.2 332.5,505.2 334.0,503.0" class="ink" stroke-width="3"/>
<path d="M230.0,854.0 C232.0,844.0 238.0,812.3 242.0,794.0 C246.0,775.7 250.8,756.2 254.0,744.0 C257.2,731.8 257.2,735.0 261.0,721.0 C264.8,707.0 270.7,680.0 277.0,660.0 C283.3,640.0 291.7,621.2 299.0,601.0 C306.3,580.8 317.3,549.3 321.0,539.0" class="ink" stroke-width="1.4"/>
<path class="ink" stroke-width="2" d="M318,512 L343,493 M320,519 L344,500 M330,508 L341,486 M255,870 L262,853 M247,886 L263,845 M221,882 L254,871 M475,618 L466,622"/>
<path d="M787,441 L782,468" stroke="#8a8a8a" stroke-width="1.8" fill="none" stroke-linecap="round"/>
</g>
<g id="holes">
<g><circle cx="726.5" cy="354.5" r="11.6" fill="#de8522"/><circle cx="726.5" cy="354.5" r="11.6" fill="url(#hatch2)"/><circle cx="726.5" cy="354.5" r="11.6" fill="none" stroke="#2a1704" stroke-width="1.6"/><path d="M718.5,363.0 a11.6,11.6 0 0 0 16,3" fill="none" stroke="#1a0d00" stroke-width="2.2"/></g>
<g><circle cx="525.0" cy="448.0" r="11.6" fill="#de8522"/><circle cx="525.0" cy="448.0" r="11.6" fill="url(#hatch2)"/><circle cx="525.0" cy="448.0" r="11.6" fill="none" stroke="#2a1704" stroke-width="1.6"/><path d="M517.0,456.5 a11.6,11.6 0 0 0 16,3" fill="none" stroke="#1a0d00" stroke-width="2.2"/></g>
<g><circle cx="357.0" cy="552.5" r="11.6" fill="#de8522"/><circle cx="357.0" cy="552.5" r="11.6" fill="url(#hatch2)"/><circle cx="357.0" cy="552.5" r="11.6" fill="none" stroke="#2a1704" stroke-width="1.6"/><path d="M349.0,561.0 a11.6,11.6 0 0 0 16,3" fill="none" stroke="#1a0d00" stroke-width="2.2"/></g>
<g><circle cx="254.3" cy="805.5" r="11.6" fill="#de8522"/><circle cx="254.3" cy="805.5" r="11.6" fill="url(#hatch2)"/><circle cx="254.3" cy="805.5" r="11.6" fill="none" stroke="#2a1704" stroke-width="1.6"/><path d="M246.3,814.0 a11.6,11.6 0 0 0 16,3" fill="none" stroke="#1a0d00" stroke-width="2.2"/></g>
</g>
<g id="hexscrews">
<g><circle cx="737.5" cy="439.0" r="15" fill="#4a2200"/><circle cx="737.5" cy="438.5" r="13" fill="url(#gHex)"/><circle cx="737.5" cy="438.0" r="8" fill="#7a3e05" opacity="0.9"/><polygon points="742.1,438.0 739.8,442.0 735.2,442.0 732.9,438.0 735.2,434.0 739.8,434.0" fill="#9c520b" stroke="#432000" stroke-width="1.1"/></g>
<g><circle cx="505.5" cy="573.0" r="15" fill="#4a2200"/><circle cx="505.5" cy="572.5" r="13" fill="url(#gHex)"/><circle cx="505.5" cy="572.0" r="8" fill="#7a3e05" opacity="0.9"/><polygon points="510.1,572.0 507.8,576.0 503.2,576.0 500.9,572.0 503.2,568.0 507.8,568.0" fill="#9c520b" stroke="#432000" stroke-width="1.1"/></g>
<g><circle cx="287.7" cy="812.3" r="15" fill="#4a2200"/><circle cx="287.7" cy="811.8" r="13" fill="url(#gHex)"/><circle cx="287.7" cy="811.3" r="8" fill="#7a3e05" opacity="0.9"/><polygon points="292.3,811.3 290.0,815.3 285.4,815.3 283.1,811.3 285.4,807.3 290.0,807.3" fill="#9c520b" stroke="#432000" stroke-width="1.1"/></g>
</g>
<g id="arrows" class="ink">
<path stroke-width="3.7" d="M220,232 C196,330 183,420 183,520 C183,620 196,700 220,787"/>
<path stroke-width="4" d="M206,770 L220.5,789.5 L219.5,763"/>
<path stroke-width="3.7" d="M329,225 C326,300 325,380 331.5,468"/>
<path stroke-width="3.4" d="M322,450 L331.5,470 L335.5,449"/>
<path stroke-width="3.7" d="M437,215 L509.5,388"/>
<path stroke-width="3.4" d="M496,375 L510,389 L511,360"/>
<path stroke-width="3.7" d="M552,213 C600,245 640,272 684,303"/>
<path stroke-width="3.6" d="M666,302 L684,305 L680.5,289"/>
<path stroke-width="3.8" stroke="#2e2e2e" d="M760.5,588 C754,548 747,510 742.5,472"/>
<path stroke-width="3.6" stroke="#1e1e1e" d="M735.5,490 L742,470 L756,487"/>
<path stroke-width="4.4" stroke="#363636" d="M733,616.5 C690,617 620,603 543,581"/>
<path stroke-width="3.4" stroke="#222" d="M577,575.5 L541.5,580 L569,600"/>
<path stroke-width="4.6" stroke="url(#gArrow7)" d="M478,853.5 C440,849 380,838 334,824.5"/>
<path stroke-width="3.6" stroke="#1c1c1c" d="M357,816 L332.5,823.5 L353,838.5"/>
</g>
<path class="ink" stroke-width="3" d="M1421.3,118.0 L1421.0,121.0 L1421.1,124.0 L1421.6,127.1 L1422.3,130.1 L1423.4,133.1 L1424.5,136.1 L1425.7,139.1 L1426.9,142.2 L1427.8,145.2 L1428.5,148.2 L1428.9,151.2 L1429.0,154.2 L1428.6,157.3 L1428.0,160.3 L1427.1,163.3 L1425.9,166.3 L1424.7,169.3 L1423.6,172.4 L1422.5,175.4 L1421.7,178.4 L1421.2,181.4 L1421.0,184.4 L1421.2,187.5 L1421.7,190.5 L1422.6,193.5 L1423.6,196.5 L1424.8,199.5 L1426.0,202.6 L1427.1,205.6 L1428.0,208.6 L1428.7,211.6 L1429.0,214.6 L1428.9,217.7 L1428.5,220.7 L1427.8,223.7 L1426.8,226.7 L1425.7,229.7 L1424.5,232.8 L1423.3,235.8 L1422.3,238.8 L1421.6,241.8 L1421.1,244.8 L1421.0,247.9 L1421.3,250.9 L1421.9,253.9 L1422.8,256.9 L1423.9,259.9 L1425.1,263.0 L1426.2,266.0 L1427.3,269.0 L1428.2,272.0 L1428.8,275.0 L1429.0,278.1 L1428.9,281.1 L1428.4,284.1 L1427.6,287.1 L1426.6,290.1 L1425.4,293.2 L1424.2,296.2 L1423.1,299.2 L1422.1,302.2 L1421.4,305.2 L1421.1,308.3 L1421.0,311.3 L1421.4,314.3 L1422.1,317.3 L1423.0,320.3 L1424.1,323.4 L1425.3,326.4 L1426.5,329.4 L1427.5,332.4 L1428.3,335.4 L1428.8,338.5 L1429.0,341.5 L1428.8,344.5 L1428.2,347.5 L1427.4,350.5 L1426.3,353.6 L1425.1,356.6 L1423.9,359.6 L1422.8,362.6 L1421.9,365.6 L1421.3,368.7 L1421.0,371.7 L1421.1,374.7 L1421.5,377.7 L1422.2,380.7 L1423.2,383.8 L1424.4,386.8 L1425.6,389.8 L1426.7,392.8 L1427.7,395.8 L1428.5,398.9 L1428.9,401.9 L1429.0,404.9 L1428.7,407.9 L1428.1,410.9 L1427.2,414.0 L1426.1,417.0 L1424.9,420.0"/>
<g id="labels">
  <text class="hand" transform="translate(24,73.3) skewX(-24) scale(1.55,1)" font-size="55" stroke-width="2.6" textLength="104" lengthAdjust="spacingAndGlyphs">G87</text>
  <text class="hand" transform="translate(179,205) skewX(-26)" font-size="49" stroke-width="3.2"><tspan x="0" textLength="70" lengthAdjust="spacingAndGlyphs">M6</tspan> <tspan x="80" dy="6" font-size="40">x</tspan> <tspan x="118" dy="-6" textLength="66" lengthAdjust="spacingAndGlyphs">12</tspan> <tspan x="204" textLength="177" lengthAdjust="spacingAndGlyphs">HEX-HEAD</tspan></text>
  <text class="hand" transform="translate(752,642) skewX(-26)" font-size="44" stroke-width="3"><tspan x="0" font-size="48" textLength="38" lengthAdjust="spacingAndGlyphs">8</tspan><tspan x="46" font-size="31" stroke-width="3" textLength="44" lengthAdjust="spacingAndGlyphs">mm</tspan> <tspan x="103" textLength="178" lengthAdjust="spacingAndGlyphs">HEX-HEAD</tspan></text>
  <text class="hand" transform="translate(503,877) skewX(-28)" font-size="39" stroke-width="1.4"><tspan x="0" textLength="158" lengthAdjust="spacingAndGlyphs">PLASTIC</tspan> <tspan x="180" textLength="136" lengthAdjust="spacingAndGlyphs">RIVET</tspan></text>
</g>
<g id="logo">
  <path id="logoA" fill="#1d1d1d" d="M1192.5,979 L1215.9,979 L1209.1,986 L1194,986 Q1192.7,986 1192.7,987.3 L1192.7,991.5 Q1192.7,992.7 1194,992.7 L1202.4,992.7 L1195.2,1000.2 L1192.5,1000.1 Q1185,999.6 1185,992.3 L1185,987.5 Q1185,979 1192.5,979 Z"/>
  <path fill="#1d1d1d" transform="rotate(180 1202 992.95)" d="M1192.5,979 L1215.9,979 L1209.1,986 L1194,986 Q1192.7,986 1192.7,987.3 L1192.7,991.5 Q1192.7,992.7 1194,992.7 L1202.4,992.7 L1195.2,1000.2 L1192.5,1000.1 Q1185,999.6 1185,992.3 L1185,987.5 Q1185,979 1192.5,979 Z"/>
  <text class="brand" x="1239" y="1000" font-size="18.2" textLength="227" lengthAdjust="spacingAndGlyphs" letter-spacing="2.2">STERCKENN</text>
</g>
</svg>
</body>
</html>
